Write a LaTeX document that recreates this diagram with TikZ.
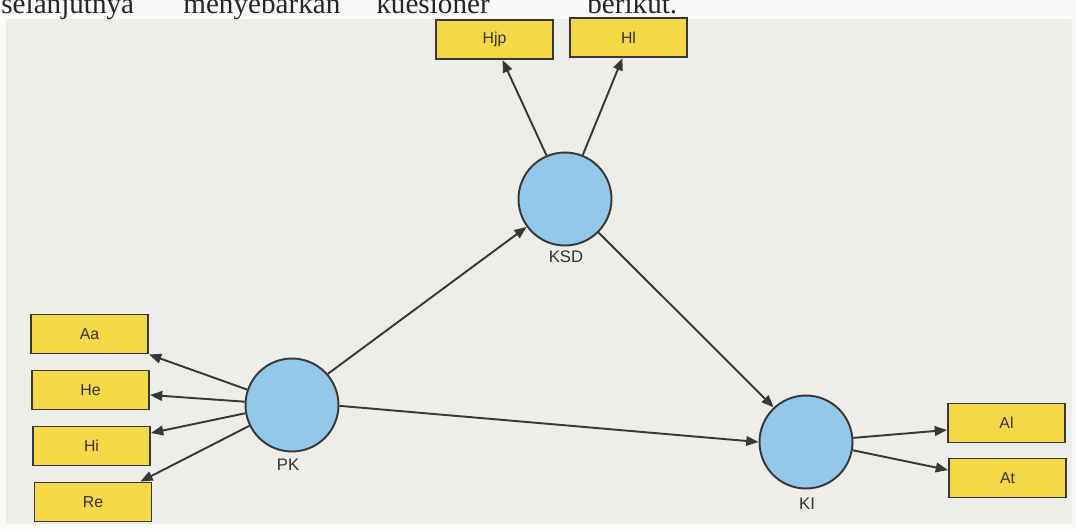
\documentclass[tikz,border=0pt]{standalone}
\usepackage{fontspec}
\setmainfont{Liberation Serif}
\newfontfamily\diagfont{Liberation Sans}
\usetikzlibrary{arrows.meta,calc}

\definecolor{paper}{HTML}{FAFAF8}
\definecolor{panel}{HTML}{EDEDE9}
\definecolor{indfill}{HTML}{F4D845}
\definecolor{latfill}{HTML}{93C8EA}
\definecolor{edge}{HTML}{383838}

\tikzset{
  indicator/.style={draw=edge, line width=1.1pt, fill=indfill, minimum width=2.34cm,
    minimum height=0.78cm, inner sep=0pt, font=\diagfont\fontsize{9}{10}\selectfont, text=black!80},
  latent/.style={draw=edge, line width=1.1pt, fill=latfill, circle, minimum size=1.86cm, inner sep=0pt},
  latlabel/.style={font=\diagfont\fontsize{9.5}{11}\selectfont, text=black!80},
  path/.style={draw=edge, line width=1.1pt, -{Triangle[length=7pt,width=5.5pt]}},
  bodytext/.style={anchor=base west, inner sep=0pt, font=\fontsize{16.6}{18}\selectfont, text=black!85}
}

\begin{document}
\begin{tikzpicture}[x=0.02cm, y=-0.02cm]
  \clip (0,0) rectangle (1076,529);
  \fill[paper] (0,0) rectangle (1076,529);
  \fill[panel] (6,19) rectangle (1072,524);

  % running text of the page above the figure
  \node[bodytext] (w1) at (1,13) {selanjutnya};
  \node[bodytext] (w2) at (183,13) {menyebarkan};
  \node[bodytext] (w3) at (376,13) {kuesioner};
  \node[bodytext] (w4) at (587,13) {berikut.};

  % latent variables
  \node[latent] (KSD) at (565,199) {};
  \node[latent] (PK) at (292,405) {};
  \node[latent] (KI) at (806,442) {};
  \node[latlabel] (KSDl) at (566,257) {KSD};
  \node[latlabel] (PKl) at (288,465) {PK};
  \node[latlabel] (KIl) at (807,504) {KI};

  % indicators
  \node[indicator] (Hjp) at (494.5,39.5) {Hjp};
  \node[indicator] (Hl) at (628.5,37.5) {Hl};
  \node[indicator] (Aa) at (89.5,334) {Aa};
  \node[indicator] (He) at (90.5,390) {He};
  \node[indicator] (Hi) at (91.5,446) {Hi};
  \node[indicator] (Re) at (93,502) {Re};
  \node[indicator] (Al) at (1006.5,423) {Al};
  \node[indicator] (At) at (1007.5,478) {At};

  % structural paths
  \draw[path] (PK.41) -- (KSD.216);
  \draw[path] (KSD.315) -- (KI.133);
  \draw[path] (PK.-1) -- (KI.180);

  % measurement paths
  \draw[path] (KSD.113) -- ($(Hjp.south)+(8,0)$);
  \draw[path] (KSD.68) -- ($(Hl.south)+(-6,0)$);
  \draw[path] (PK.161) -- (Aa.south east);
  \draw[path] (PK.176) -- ($(He.east)+(0,5)$);
  \draw[path] (PK.190) -- ($(Hi.east)+(0,-13)$);
  \draw[path] (PK.206) -- ($(Re.north east)+(-12,0)$);
  \draw[path] (KI.5) -- ($(Al.west)+(0,7)$);
  \draw[path] (KI.350) -- ($(At.west)+(0,-8)$);
\end{tikzpicture}
\end{document}
